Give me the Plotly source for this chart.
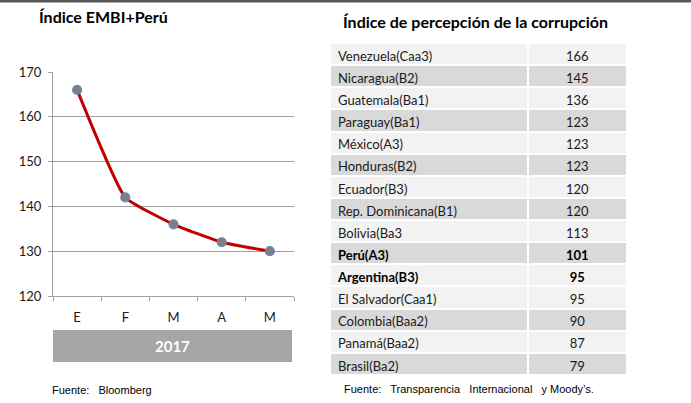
import plotly.graph_objects as go

# ---- data ----
months = ["E", "F", "M", "A", "M"]
embi_values = [166, 142, 136, 132, 130]
year_label = "2017"

countries = ["Venezuela(Caa3)", "Nicaragua(B2)", "Guatemala(Ba1)", "Paraguay(Ba1)",
             "México(A3)", "Honduras(B2)", "Ecuador(B3)", "Rep. Dominicana(B1)",
             "Bolivia(Ba3", "Perú(A3)", "Argentina(B3)", "El Salvador(Caa1)",
             "Colombia(Baa2)", "Panamá(Baa2)", "Brasil(Ba2)"]
cpi_values = [166, 145, 136, 123, 123, 123, 120, 120, 113, 101, 95, 95, 90, 87, 79]
bold_countries = ["Perú(A3)", "Argentina(B3)"]
row_shade = ["L", "D", "L", "D", "L", "D", "L", "D", "L", "D", "L", "L", "D", "L", "D"]

W, H = 691, 403
def px(x):
    return x / W
def py(y):
    return 1 - y / H

FONT = "Lato"
LIGHT, DARK = "#F2F2F2", "#D9D9D9"

fig = go.Figure()

x_idx = list(range(len(months)))
fig.add_trace(go.Scatter(
    x=x_idx, y=embi_values, mode="lines+markers",
    line=dict(color="#C00000", width=3, shape="spline", smoothing=0.4),
    marker=dict(size=9, color="#7F7F7F", line=dict(color="#5B8BD0", width=1.2)),
    showlegend=False, hoverinfo="skip",
))

is_bold = [c in bold_countries for c in countries]
fills = [LIGHT if s == "L" else DARK for s in row_shade]

table_top, table_bot = 43, 375
row_h = (table_bot - table_top) / len(countries)
tdomain = dict(x=[px(330), px(627)], y=[py(table_bot + 2), py(table_top - 1)])
hdr = dict(values=["", ""], height=1, fill=dict(color="rgba(0,0,0,0)"),
           line=dict(width=0), font=dict(size=1))

# regular-weight rows
fig.add_trace(go.Table(
    domain=tdomain, columnwidth=[197, 99], header=hdr,
    cells=dict(values=[[("" if b else c) for c, b in zip(countries, is_bold)],
                       [("" if b else str(v)) for v, b in zip(cpi_values, is_bold)]],
               height=row_h,
               fill=dict(color=[fills, fills]),
               line=dict(color="white", width=2),
               align=["left", "center"],
               font=dict(family=FONT, size=13, color="#1a1a1a")),
))
# bold rows overlay
fig.add_trace(go.Table(
    domain=tdomain, columnwidth=[197, 99], header=hdr,
    cells=dict(values=[[(c if b else "") for c, b in zip(countries, is_bold)],
                       [(str(v) if b else "") for v, b in zip(cpi_values, is_bold)]],
               height=row_h,
               fill=dict(color="rgba(0,0,0,0)"),
               line=dict(color="rgba(0,0,0,0)", width=0),
               align=["left", "center"],
               font=dict(family=FONT, size=13, color="#000", weight="bold")),
))

fig.update_layout(
    width=W, height=H, margin=dict(l=0, r=0, t=0, b=0),
    paper_bgcolor="white", plot_bgcolor="white",
    xaxis=dict(domain=[px(53), px(294)], range=[-0.5, 4.5],
               tickmode="array", tickvals=x_idx, ticktext=months,
               ticks="outside", ticklen=9, tickcolor="rgba(0,0,0,0)",
               showline=True, linecolor="#A0A0A0", linewidth=1,
               showgrid=False, zeroline=False, automargin=False,
               minor=dict(tickmode="linear", tick0=0.5, dtick=1, ticks="outside",
                          ticklen=4, tickcolor="#A0A0A0", showgrid=False),
               tickfont=dict(family=FONT, size=13, color="#1a1a1a"), fixedrange=True),
    yaxis=dict(domain=[py(296), py(72)], range=[120, 170], dtick=10,
               ticks="outside", ticklen=4, tickcolor="#A0A0A0", ticklabelstandoff=4,
               showline=True, linecolor="#A0A0A0", linewidth=1, automargin=False,
               showgrid=True, gridcolor="#A0A0A0", gridwidth=1, zeroline=False,
               tickfont=dict(family=FONT, size=13, color="#1a1a1a"), fixedrange=True),
    shapes=[
        dict(type="rect", xref="paper", yref="paper", x0=0, x1=1, y0=py(2.5), y1=1,
             fillcolor="#595959", line=dict(width=0)),
        dict(type="rect", xref="paper", yref="paper", x0=px(53), x1=px(292),
             y0=py(362), y1=py(330), fillcolor="#A6A6A6", line=dict(width=0), layer="below"),
    ],
    annotations=[
        dict(text="<b>Índice EMBI+Perú</b>", x=px(37), y=py(17), xref="paper", yref="paper",
             xanchor="left", yanchor="middle", showarrow=False,
             font=dict(family=FONT, size=16, color="#000")),
        dict(text="<b>Índice de percepción de la corrupción</b>", x=px(341), y=py(22),
             xref="paper", yref="paper", xanchor="left", yanchor="middle", showarrow=False,
             font=dict(family=FONT, size=16, color="#000")),
        dict(text=f"<b>{year_label}</b>", x=px(172), y=py(346), xref="paper", yref="paper",
             xanchor="center", yanchor="middle", showarrow=False,
             font=dict(family=FONT, size=15, color="white")),
        dict(text="Fuente:   Bloomberg", x=px(50), y=py(390), xref="paper", yref="paper",
             xanchor="left", yanchor="middle", showarrow=False,
             font=dict(family="Liberation Sans Narrow, Liberation Sans", size=11, color="#000")),
        dict(text="Fuente:   Transparencia   Internacional   y Moody\u2019s.", x=px(342), y=py(389),
             xref="paper", yref="paper", xanchor="left", yanchor="middle", showarrow=False,
             font=dict(family="Liberation Sans Narrow, Liberation Sans", size=11, color="#000")),
    ],
)

fig.write_html("out.html", config={"displayModeBar": False},
               post_script="document.body.style.margin='0';document.body.style.overflow='hidden';")
